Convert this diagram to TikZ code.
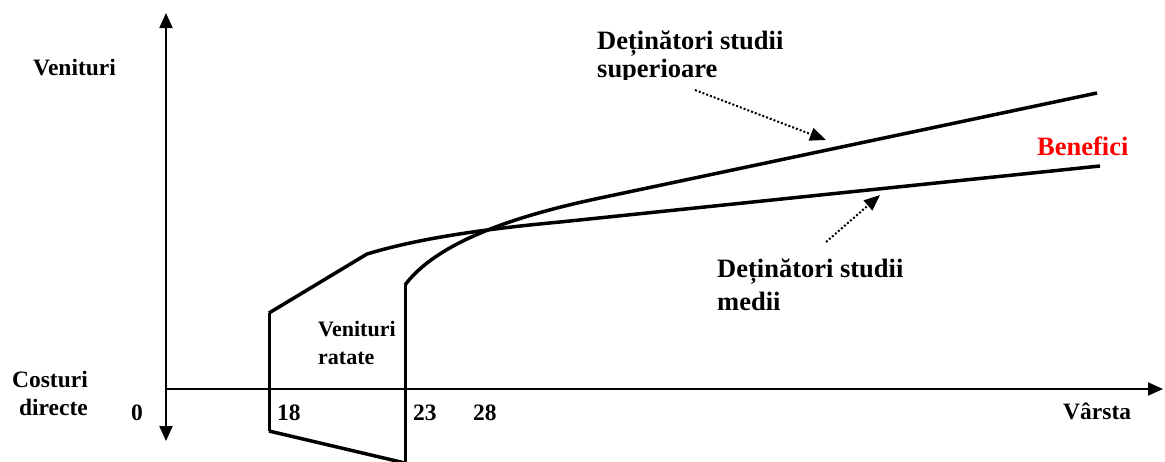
\documentclass[tikz,border=0pt]{standalone}
\usepackage{fontspec}
\setmainfont{Liberation Serif}
\usetikzlibrary{arrows.meta}

\begin{document}
\begin{tikzpicture}[x=1pt,y=-1pt,
  axis/.style={line width=2pt,-{Triangle[length=15pt,width=13pt]}},
  curve/.style={line width=3.5pt,line join=round},
  bound/.style={line width=3pt},
  pointer/.style={line width=2pt,dotted,-{Triangle[length=16pt,width=13pt]}},
  lbl/.style={font=\bfseries\fontsize{23.5}{28}\selectfont,inner sep=0pt},
  big/.style={font=\bfseries\fontsize{26.5}{28}\selectfont,inner sep=0pt},
  small/.style={font=\bfseries\fontsize{22}{28}\selectfont,inner sep=0pt}]
  \useasboundingbox (0,0) rectangle (1165,461);

  % axes
  \coordinate (O) at (166,389);
  \coordinate (ytop) at (166,13);
  \coordinate (ybot) at (166,441);
  \coordinate (xend) at (1163,389);
  \draw[axis] (O) -- (ytop);
  \draw[axis] (O) -- (ybot);
  \draw[axis] (O) -- (xend);

  % earnings profile with secondary education
  \coordinate (m0) at (269,313);
  \coordinate (m1) at (367,254);
  \coordinate (m2) at (560,222);
  \coordinate (m3) at (1100,166);
  \coordinate (c0) at (269,431);
  \coordinate (c1) at (405,463);
  \draw[bound] (c0) -- (m0);
  \draw[curve] (c0) -- (c1);
  \draw[curve] (m0) -- (m1) .. controls (420,238) and (485,229) .. (m2) -- (m3);

  % earnings profile with higher education
  \coordinate (s0) at (405,285);
  \coordinate (s1) at (600,198);
  \coordinate (s2) at (1097,93);
  \coordinate (sb) at (405,463);
  \draw[bound] (sb) -- (s0);
  \draw[curve] (s0) .. controls (435,245) and (505,218) .. (s1) -- (s2);

  % labels
  \node[lbl,anchor=base west] (venit) at (33,75) {Venituri};
  \node[lbl,anchor=north east,align=right] (cost) at (88,371) {Costuri\\directe};
  \node[lbl,anchor=base west] (n0) at (131,420) {0};
  \node[lbl,anchor=base west] (n18) at (277,420) {18};
  \node[lbl,anchor=base west] (n23) at (413,420) {23};
  \node[lbl,anchor=base west] (n28) at (473,420) {28};
  \node[lbl,anchor=base west] (varsta) at (1063,419) {Vârsta};
  \node[big,anchor=base west,text=red] (benef) at (1037,155) {Benefici};
  \node[small,anchor=north west,align=left] (ratate) at (318,321) {Venituri\\ratate};
  \begin{scope}
    \clip (560,0) rectangle (900,79);
    \node[big,anchor=north west,align=left] (sup) at (597,31) {Deținători studii\\superioare};
  \end{scope}
  \node[big,anchor=north west,align=left,font=\bfseries\fontsize{26.5}{33}\selectfont] (med) at (717,259) {Deținători studii\\medii};

  % pointers from the labels to the curves
  \coordinate (ps) at (695,90);
  \coordinate (pst) at (826,140);
  \coordinate (pm) at (826,242);
  \coordinate (pmt) at (880,195);
  \draw[pointer] (ps) -- (pst);
  \draw[pointer] (pm) -- (pmt);
\end{tikzpicture}
\end{document}
